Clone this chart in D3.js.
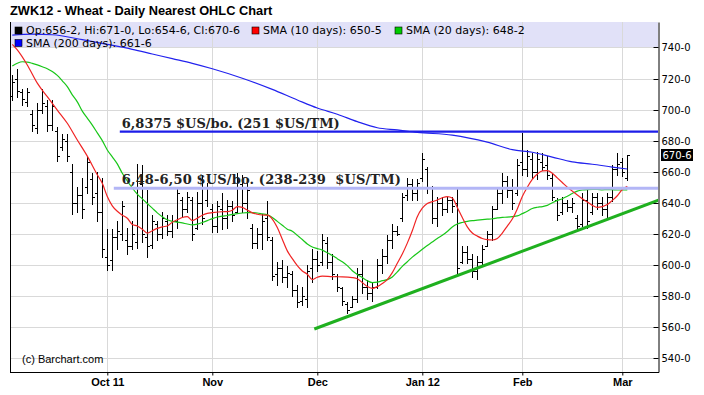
<!DOCTYPE html>
<html>
<head>
<meta charset="utf-8">
<title>ZWK12 - Wheat - Daily Nearest OHLC Chart</title>
<script src="https://cdn.jsdelivr.net/npm/d3@7"></script>
<style>
  body{margin:0;background:#fff;}
  svg{display:block;font-family:"DejaVu Sans",Verdana,sans-serif;font-size:10px;}
  .grid line{stroke:#d9d9d9;shape-rendering:crispEdges;}
  .frame{stroke:#000;shape-rendering:crispEdges;}
  .bar{stroke:#000;fill:none;shape-rendering:crispEdges;}
  .note{font-family:"DejaVu Serif",serif;font-weight:bold;font-size:13px;fill:#222;}
  .legend text{font-size:11px;}
</style>
</head>
<body>
<svg id="chart" width="704" height="395"></svg>
<script>
// trading days, Sep 6 2011 - Mar 2 2012
var holidays = ["2011-11-24","2011-12-26","2012-01-02","2012-01-16","2012-02-20"];
var fmt = d3.timeFormat("%Y-%m-%d");
var dates = d3.timeDay.range(new Date(2011,8,6), new Date(2012,2,3))
  .filter(function(d){ return d.getDay()>0 && d.getDay()<6 && holidays.indexOf(fmt(d))<0; });

var opens = [709,720,711,705,697,688,700,702,690,686, 676,680,660,640,645,650,655,646,634,605,
  603,618,620,616,612,615,652,618,613,626, 620,628,622,628,642,636,642,624,640,642,
  636,625,636,630,638,634,652,640,624,614, 620,630,616,594,598,592,594,584,577,578,
  598,604,602,614,602,593,585,575,573,578, 594,586,582,586,600,606,616,622,630,645,
  652,646,656,662,650,630,640,636,642,640, 602,608,604,596,602,612,620,636,646,654,
  648,646,666,662,668,660,666,664,656,642, 634,640,637,630,626,642,634,644,640,636,
  644,662,666,656.25];
var highs = [722,726,713,714,700,704,713,706,706,689, 684,684,665,650,656,670,659,660,656,623,
  623,628,641,624,628,665,664,648,632,628, 634,632,632,650,644,647,644,647,658,653,
  639,641,646,642,641,659,658,653,626,624, 633,641,618,602,603,599,596,587,586,600,
  610,609,620,618,607,594,586,576,580,598, 603,590,589,604,610,619,626,625,646,656,
  655,655,672,663,651,644,644,644,644,649, 612,612,607,606,613,622,638,650,659,657,
  655,668,685,674,672,673,672,670,659,643, 644,642,643,632,646,649,646,646,644,646,
  664,672,669,671];
var lows = [706,708,703,702,686,685,698,686,687,667, 674,667,633,634,630,646,639,628,605,597,
  597,610,616,607,610,611,615,605,611,616, 617,619,618,624,631,634,616,623,626,638,
  621,621,623,624,628,634,634,630,611,611, 610,616,590,587,589,586,580,573,574,573,
  589,596,600,598,591,583,574,569,573,576, 582,578,577,585,595,601,611,619,628,642,
  642,642,654,646,627,625,632,634,634,594, 601,601,592,591,599,612,616,636,640,644,
  636,645,658,657,656,655,661,655,642,629, 633,635,634,622,625,624,633,636,632,630,
  641,658,657,654.75];
var closes = [718,712,707,711,690,700,704,690,702,670, 681,670,640,645,636,666,644,634,610,600,
  618,622,638,612,620,650,620,612,628,620, 630,622,628,646,636,644,620,640,630,650,
  625,638,630,638,632,654,640,648,614,620, 628,618,593,598,592,595,584,576,580,596,
  604,600,616,602,594,586,577,571,578,594, 586,582,586,600,606,616,622,620,644,652,
  646,653,668,650,630,640,636,642,638,598, 608,604,596,602,610,620,636,646,654,648,
  640,664,662,670,660,668,663,658,644,632, 640,637,640,625,642,628,644,640,636,644,
  662,665,660,670.75];

// moving averages: [bar index, value]
var sma10 = [[0,742],[1,738.4],[3,728.7],[5,717],[7,708.3],[9,699.7],[11,691.2],[13,680.4],[15,670],[17,658],
  [18,652.5],[19,644],[20,638],[21,634.5],[22,632],[23,630],[24,626],[25,625],[26,623],[27,620.5],
  [28,622],[29,623.5],[30,624.5],[31,625],[32,627.5],[33,629],[34,630.5],[35,631],[36,628.5],[37,630],
  [38,632],[39,633.2],[40,633.6],[42,634.2],[43,634.3],[44,635.2],[45,637.5],[46,637],[47,635.3],[48,633.5],
  [49,632.6],[50,632.1],[51,632],[52,629.5],[53,624],[54,616.5],[55,609],[56,604],[57,599.5],[58,596],
  [59,594],[60,590.5],[61,592],[62,592.8],[64,592.4],[66,592.3],[68,591.8],[69,591],[70,588.6],[71,586],
  [72,584.9],[73,586],[74,588],[75,590.5],[76,595],[77,601],[78,607],[79,614],[80,622],[81,631],
  [82,636.5],[83,639.5],[84,640.7],[85,641.8],[86,643.2],[87,644],[88,643],[89,637],[90,630.5],[91,624.5],
  [92,620.5],[93,618.5],[94,617],[95,616.2],[96,616],[97,617],[98,620.5],[99,625],[100,629.5],[101,636],
  [102,644],[103,650],[104,655],[105,658.5],[106,660.5],[107,660.7],[108,659],[109,656],[110,653],[111,650],
  [112,647.5],[113,645],[114,642.5],[115,640.5],[116,638.3],[117,637],[118,637.5],[119,638.8],[120,641.5],[121,644.5],
  [122,648.5],[123,650.6]];
var sma20 = [[0,728],[1,729.8],[2,730.8],[3,730.6],[4,729.8],[5,728.8],[6,727.6],[7,726.3],[8,724.5],[9,722],
  [10,718.5],[11,714.8],[12,709.5],[13,705],[14,699],[15,694.5],[16,690],[17,685],[18,680],[19,674],
  [20,669.5],[21,665],[22,659],[23,654],[24,649.5],[25,645.5],[26,642.5],[27,639.5],[28,636.5],[29,633.5],
  [30,631],[31,629],[32,628],[33,627.5],[34,627],[35,626.3],[36,625.8],[37,626.2],[38,627.3],[39,628.5],
  [40,629.8],[41,630.8],[42,631.4],[43,631.8],[44,632.5],[45,633],[46,633.4],[47,633.6],[48,633.6],[49,633.4],
  [50,632.8],[51,632.2],[52,630.5],[53,628],[54,625.5],[55,623],[56,621.7],[57,619],[58,616.3],[59,613.5],
  [60,611.5],[61,610.5],[62,609.5],[63,607.8],[64,606],[65,604],[66,602],[67,599.5],[68,596.2],[69,593.8],
  [70,591.8],[71,589.8],[72,588.6],[73,588.9],[74,589.8],[75,590.5],[76,592.2],[77,595.5],[78,599],[79,602],
  [80,605],[81,607.5],[82,610],[83,612.5],[84,614.7],[85,617],[86,619],[87,621.5],[88,624.4],[89,626.3],
  [90,627.3],[91,628],[92,628.5],[93,628.8],[94,629.1],[95,629.4],[96,629.7],[97,630.2],[98,630.6],[99,630.7],
  [100,631],[101,631.5],[102,633],[103,634.5],[104,636.3],[105,637.1],[106,637.5],[107,638.3],[108,640],[109,641.5],
  [110,642.6],[111,644.2],[112,646],[113,647.5],[114,648.2],[115,648.5],[116,648.6],[117,648.6],[118,648.3],[119,648.5],
  [120,648.4],[121,648.2],[122,648.2],[123,648.25]];
var sma200 = [[0,748],[4,748.6],[8,748.2],[14,745],[19,742],[24,738.8],[28,735.8],[32,732.8],[36,729.8],[40,726.3],
  [46,720.2],[52,713],[57,706.2],[61,701],[65,697],[69,692.2],[73,688.3],[77,686.9],[81,685.3],[88,683.6],
  [95,679],[100,674.2],[104,672.5],[108,669.4],[112,666.3],[116,664.8],[120,663],[123,661.75]];

// drawn annotations
var trendLine = [[60.4,558.7],[130,642.5]];
var resistance = {value:685.75, from:21.5, text:"6,8375 $US/bo. (251 $US/TM)"};
var support = {value:649.3, from:20.3, text:"6,48-6,50 $US/bo. (238-239\u00a0 $US/TM)"};

var yTicks = [540,560,580,600,620,640,660,680,700,720,740];
var monthKeys = ["2011-10","2011-11","2011-12","2012-01","2012-02","2012-03"];
var monthLabels = ["Oct 11","Nov","Dec","Jan 12","Feb","Mar"];
var legendItems = [
  {color:"#000", text:"Op:656-2, Hi:671-0, Lo:654-6, Cl:670-6", x:15, row:0},
  {color:"#f00", text:"SMA (10 days): 650-5", x:252, row:0},
  {color:"#0c0", text:"SMA (20 days): 648-2", x:395, row:0},
  {color:"#00f", text:"SMA (200 days): 661-6", x:15, row:1}
];

var svg = d3.select("#chart");
var P = {left:10, right:658, top:22, bottom:372};

var x = d3.scaleLinear().domain([0, dates.length-1]).range([12.3, 627.3]);
var y = d3.scaleLinear().domain([531, 756.4]).range([P.bottom, P.top]);
var px = function(v){ return Math.round(v)+0.5; };

var monthFmt = d3.timeFormat("%Y-%m");
var monthIdx = monthKeys.map(function(k){
  return dates.findIndex(function(d){ return monthFmt(d)===k; });
});

svg.append("defs").append("clipPath").attr("id","clip")
  .append("rect").attr("x",P.left).attr("y",P.top)
  .attr("width",P.right-P.left).attr("height",P.bottom-P.top);

// title
svg.append("text").attr("x",10).attr("y",15)
  .style("font-family","'Liberation Sans',Arial,sans-serif")
  .style("font-weight","bold").style("font-size","12.8px")
  .text("ZWK12 - Wheat - Daily Nearest OHLC Chart");

// legend band
svg.append("rect").attr("x",P.left).attr("y",P.top)
  .attr("width",P.right-P.left).attr("height",26).attr("fill","#e1e1f8");

// grid
var grid = svg.append("g").attr("class","grid");
grid.selectAll(".h").data(yTicks).enter().append("line")
  .attr("x1",P.left).attr("x2",P.right)
  .attr("y1",function(d){ return px(y(d)); }).attr("y2",function(d){ return px(y(d)); });
grid.selectAll(".v").data(monthIdx).enter().append("line")
  .attr("y1",P.top).attr("y2",P.bottom)
  .attr("x1",function(d){ return px(x(d)); }).attr("x2",function(d){ return px(x(d)); });

var plot = svg.append("g").attr("clip-path","url(#clip)");

// OHLC bars
plot.selectAll(".bar").data(dates).enter().append("path")
  .attr("class","bar")
  .attr("d",function(d,i){
    var cx = px(x(i));
    return "M"+cx+","+Math.round(y(highs[i]))+"V"+(Math.round(y(lows[i]))+1)+
      "M"+(cx-2.5)+","+px(y(opens[i]))+"H"+cx+
      "M"+cx+","+px(y(closes[i]))+"H"+(cx+2.5);
  });

// moving averages
var line = d3.line().x(function(d){ return x(d[0]); }).y(function(d){ return y(d[1]); })
  .curve(d3.curveMonotoneX);
[[sma200,"#2222ee"],[sma20,"#19c719"],[sma10,"#f02424"]].forEach(function(s){
  plot.append("path").datum(s[0]).attr("d",line)
    .attr("fill","none").attr("stroke",s[1]).attr("stroke-width",1.2);
});

// annotations
plot.append("line")
  .attr("x1",x(support.from)).attr("x2",P.right)
  .attr("y1",y(support.value)).attr("y2",y(support.value))
  .attr("stroke","#b3b6f6").attr("stroke-width",3);
plot.append("line")
  .attr("x1",x(resistance.from)).attr("x2",P.right)
  .attr("y1",y(resistance.value)).attr("y2",y(resistance.value))
  .attr("stroke","#1d1de8").attr("stroke-width",2.2);
plot.append("path").datum(trendLine)
  .attr("d",d3.line().x(function(d){ return x(d[0]); }).y(function(d){ return y(d[1]); }))
  .attr("stroke","#1fb01f").attr("stroke-width",3).attr("fill","none");

svg.append("text").attr("class","note")
  .attr("x",x(resistance.from)+2).attr("y",y(resistance.value)-4)
  .text(resistance.text);
svg.append("text").attr("class","note")
  .attr("x",x(resistance.from)+2).attr("y",y(support.value)-4.5)
  .style("letter-spacing","0.15px")
  .text(support.text);

// legend
var leg = svg.append("g").attr("class","legend");
legendItems.forEach(function(d){
  var top = 27 + d.row*12.5;
  leg.append("rect").attr("x",d.x).attr("y",top).attr("width",7).attr("height",7)
    .attr("fill",d.color).attr("stroke","#000").attr("stroke-width",0.6);
  leg.append("text").attr("x",d.x+11).attr("y",top+7).text(d.text);
});

// frame and axes
svg.append("line").attr("class","frame")
  .attr("x1",px(P.left)).attr("x2",px(P.left)).attr("y1",P.top).attr("y2",px(P.bottom));
svg.append("line").attr("class","frame")
  .attr("x1",P.left).attr("x2",P.right+1).attr("y1",px(P.bottom)).attr("y2",px(P.bottom));

var yAxis = d3.axisRight(y).tickValues(yTicks).tickSize(-5).tickSizeOuter(0).tickPadding(3)
  .tickFormat(function(d){ return d+"-0"; });
var ya = svg.append("g").attr("transform","translate("+px(P.right)+",0)").call(yAxis);
ya.select(".domain").attr("stroke","#000");
ya.selectAll(".tick line").attr("stroke","#000");
ya.selectAll("text").style("font-family","'DejaVu Sans',Verdana,sans-serif").style("font-size","10px").attr("fill","#000");
ya.selectAll(".tick").attr("transform",function(d){ return "translate(0,"+px(y(d))+")"; });

var xAxis = d3.axisBottom(x).tickValues(monthIdx).tickSize(3).tickPadding(3)
  .tickFormat(function(d,i){ return monthLabels[i]; });
var xa = svg.append("g").attr("transform","translate(0,"+px(P.bottom)+")").call(xAxis);
xa.select(".domain").remove();
xa.selectAll(".tick line").attr("stroke","#000");
xa.selectAll("text").style("font-family","'Liberation Sans',Arial,sans-serif")
  .style("font-weight","bold").style("font-size","11px").attr("fill","#000");

// last price marker
var last = closes[closes.length-1];
svg.append("rect").attr("x",661).attr("y",y(last)-6).attr("width",32).attr("height",12).attr("fill","#000");
svg.append("text").attr("x",662.5).attr("y",y(last)+3.8).attr("fill","#fff").text("670-6");

// watermark
svg.append("text").attr("x",22).attr("y",363).style("font-family","'Liberation Sans',Arial,sans-serif")
  .style("font-size","11px").text("(c) Barchart.com");
</script>
</body>
</html>
